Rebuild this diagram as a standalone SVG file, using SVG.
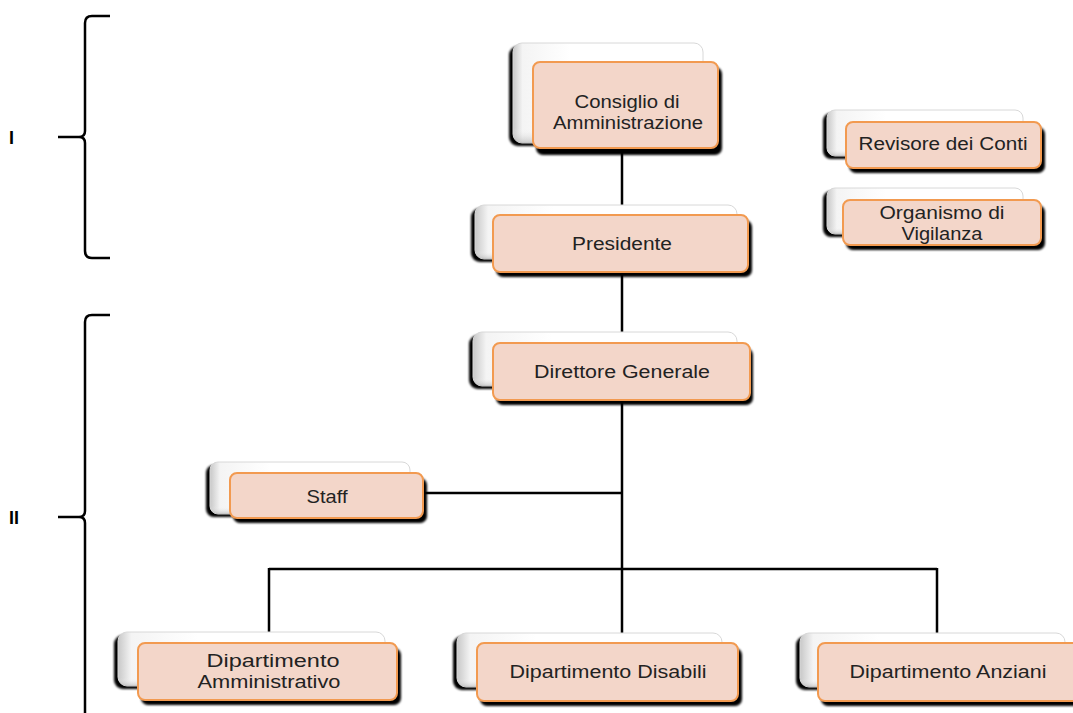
<svg xmlns="http://www.w3.org/2000/svg" width="1073" height="713" viewBox="0 0 1073 713">
<defs>
<linearGradient id="backg" x1="0" y1="0" x2="1" y2="0">
<stop offset="0" stop-color="#c8c8c8"/>
<stop offset="0.05" stop-color="#f4f4f4"/>
<stop offset="0.3" stop-color="#ffffff"/>
<stop offset="1" stop-color="#ffffff"/>
</linearGradient>
<linearGradient id="backv" x1="0" y1="0" x2="0" y2="1">
<stop offset="0" stop-color="#ffffff" stop-opacity="0"/>
<stop offset="0.85" stop-color="#ffffff" stop-opacity="0"/>
<stop offset="1" stop-color="#a0a0a0" stop-opacity="0.5"/>
</linearGradient>
<filter id="blur" x="-10%" y="-10%" width="120%" height="130%"><feGaussianBlur stdDeviation="0.8"/></filter>
</defs>
<style>
.bs{fill:#000;filter:url(#blur)}
.bk{fill:url(#backg);stroke:#d8d8d8;stroke-width:1}
.bv{fill:url(#backv)}
.fs{fill:#000;filter:url(#blur)}
.fr{fill:#f3d6c9;stroke:#f29a50;stroke-width:2}
.t{font-family:"Liberation Sans",Arial,sans-serif;font-size:17.5px;fill:#222;text-anchor:middle}
.c{fill:none;stroke:#000;stroke-width:2.5}
.br{fill:none;stroke:#000;stroke-width:2.5}
.lab{font-family:"Liberation Sans",Arial,sans-serif;font-size:18px;font-weight:bold;fill:#000}
</style>
<rect width="1073" height="713" fill="#fff"/>

<g id="brackets">
<path class="br" d="M110,16 L92,16 Q85,16 85,23 L85,131 Q85,137 79,137 L58,137 M79,137 Q85,137 85,143 L85,251 Q85,258 92,258 L110,258"/>
<text class="lab" x="9" y="144">I</text>
<path class="br" d="M110,315 L92,315 Q85,315 85,322 L85,511 Q85,517 79,517 L58,517 M79,517 Q85,517 85,523 L85,713"/>
<text class="lab" x="9" y="524">II</text>
</g>

<g id="connectors">
<path class="c" d="M622,150 L622,645"/>
<path class="c" d="M423,493 L622,493"/>
<path class="c" d="M269,569 L937,569 M269,568 L269,645 M937,568 L937,645"/>
</g>

<g id="consiglio">
<rect class="bs" x="509" y="46" width="190" height="100" rx="9"/>
<rect class="bk" x="513" y="43" width="190" height="100" rx="9"/>
<rect class="bv" x="513" y="43" width="190" height="100" rx="9"/>
<rect class="fs" x="536" y="67" width="186" height="88" rx="7"/>
<rect class="fr" x="533" y="62" width="185" height="86" rx="7"/>
<text class="t" x="627" y="108" textLength="105" lengthAdjust="spacingAndGlyphs">Consiglio di</text>
<text class="t" x="628" y="129" textLength="150" lengthAdjust="spacingAndGlyphs">Amministrazione</text>
</g>

<g id="presidente">
<rect class="bs" x="471" y="208" width="262" height="54" rx="9"/>
<rect class="bk" x="475" y="205" width="262" height="54" rx="9"/>
<rect class="bv" x="475" y="205" width="262" height="54" rx="9"/>
<rect class="fs" x="496" y="220" width="256" height="57" rx="7"/>
<rect class="fr" x="493" y="215" width="255" height="57" rx="7"/>
<text class="t" x="622" y="250" textLength="100" lengthAdjust="spacingAndGlyphs">Presidente</text>
</g>

<g id="direttore">
<rect class="bs" x="469" y="335" width="264" height="54" rx="9"/>
<rect class="bk" x="473" y="332" width="264" height="54" rx="9"/>
<rect class="bv" x="473" y="332" width="264" height="54" rx="9"/>
<rect class="fs" x="496" y="348" width="257" height="57" rx="7"/>
<rect class="fr" x="493" y="343" width="257" height="57" rx="7"/>
<text class="t" x="622" y="378" textLength="176" lengthAdjust="spacingAndGlyphs">Direttore Generale</text>
</g>

<g id="revisore">
<rect class="bs" x="823" y="113" width="196" height="46" rx="8"/>
<rect class="bk" x="827" y="110" width="196" height="46" rx="8"/>
<rect class="bv" x="827" y="110" width="196" height="46" rx="8"/>
<rect class="fs" x="849" y="127" width="196" height="46" rx="7"/>
<rect class="fr" x="846" y="122" width="195" height="46" rx="7"/>
<text class="t" x="943" y="150" textLength="169" lengthAdjust="spacingAndGlyphs">Revisore dei Conti</text>
</g>

<g id="organismo">
<rect class="bs" x="823" y="191" width="196" height="46" rx="8"/>
<rect class="bk" x="827" y="188" width="196" height="46" rx="8"/>
<rect class="bv" x="827" y="188" width="196" height="46" rx="8"/>
<rect class="fs" x="846" y="205" width="199" height="45" rx="7"/>
<rect class="fr" x="843" y="200" width="198" height="45" rx="7"/>
<text class="t" x="942" y="219" textLength="125" lengthAdjust="spacingAndGlyphs">Organismo di</text>
<text class="t" x="942" y="240" textLength="81" lengthAdjust="spacingAndGlyphs">Vigilanza</text>
</g>

<g id="staff">
<rect class="bs" x="206" y="465" width="200" height="52" rx="8"/>
<rect class="bk" x="210" y="462" width="200" height="52" rx="8"/>
<rect class="bv" x="210" y="462" width="200" height="52" rx="8"/>
<rect class="fs" x="233" y="478" width="194" height="45" rx="7"/>
<rect class="fr" x="230" y="473" width="193" height="45" rx="7"/>
<text class="t" x="327" y="503" textLength="41" lengthAdjust="spacingAndGlyphs">Staff</text>
</g>

<g id="dip-amministrativo">
<rect class="bs" x="114" y="635" width="267" height="54" rx="9"/>
<rect class="bk" x="118" y="632" width="267" height="54" rx="9"/>
<rect class="bv" x="118" y="632" width="267" height="54" rx="9"/>
<rect class="fs" x="141" y="648" width="260" height="57" rx="7"/>
<rect class="fr" x="138" y="643" width="259" height="57" rx="7"/>
<text class="t" x="273" y="667" textLength="133" lengthAdjust="spacingAndGlyphs">Dipartimento</text>
<text class="t" x="269" y="688" textLength="143" lengthAdjust="spacingAndGlyphs">Amministrativo</text>
</g>

<g id="dip-disabili">
<rect class="bs" x="453" y="636" width="265" height="54" rx="9"/>
<rect class="bk" x="457" y="633" width="265" height="54" rx="9"/>
<rect class="bv" x="457" y="633" width="265" height="54" rx="9"/>
<rect class="fs" x="480" y="648" width="262" height="58" rx="7"/>
<rect class="fr" x="477" y="643" width="261" height="58" rx="7"/>
<text class="t" x="608" y="678" textLength="197" lengthAdjust="spacingAndGlyphs">Dipartimento Disabili</text>
</g>

<g id="dip-anziani">
<rect class="bs" x="796" y="636" width="265" height="54" rx="9"/>
<rect class="bk" x="800" y="633" width="265" height="54" rx="9"/>
<rect class="bv" x="800" y="633" width="265" height="54" rx="9"/>
<rect class="fs" x="821" y="648" width="262" height="58" rx="7"/>
<rect class="fr" x="818" y="643" width="261" height="58" rx="7"/>
<text class="t" x="948" y="678" textLength="197" lengthAdjust="spacingAndGlyphs">Dipartimento Anziani</text>
</g>
</svg>
